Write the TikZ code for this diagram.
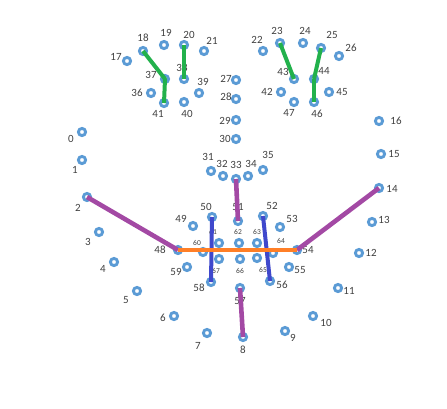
\documentclass[tikz,border=0pt]{standalone}
\usepackage{fontspec}
\setmainfont{Carlito}
\definecolor{dotblue}{HTML}{5B9BD5}
\definecolor{lblgray}{HTML}{404040}
\definecolor{lgreen}{HTML}{22B14C}
\definecolor{lmagenta}{HTML}{A349A4}
\definecolor{lblue}{HTML}{3F48CC}
\definecolor{lorange}{HTML}{FF7F27}
\begin{document}
\begin{tikzpicture}[x=1pt,y=-1pt,
  pt/.style={circle,draw=dotblue,line width=2.9pt,fill=white,minimum size=7.2pt,inner sep=0pt},
  lbl/.style={text=lblgray,font=\fontsize{11}{13}\selectfont,inner sep=0pt},
  slbl/.style={text=lblgray,font=\fontsize{7.5}{9}\selectfont,inner sep=0pt},
  gline/.style={draw=lgreen,line width=4pt,line join=round},
  mline/.style={draw=lmagenta,line width=4.6pt},
  bline/.style={draw=lblue,line width=4pt},
  oline/.style={draw=lorange,line width=4pt}]
\useasboundingbox (0,0) rectangle (447,408);
% points: name / x / y / label x / label y
\foreach \n/\x/\y/\lx/\ly in {
 0/82/132/71/139, 1/82/160/75/170, 2/87/197/78/208, 3/99/232/88/242,
 4/114/262/103/269, 5/137/291/126/300, 6/174/316/163/318, 7/207/333/198/346,
 8/243/337/243/350, 9/285/331/293/338, 10/313/316/326/323, 11/338/288/349/291,
 12/359/253/371/253, 13/372/222/384/220, 14/379/188/392/189, 15/381/154/394/154,
 16/379/121/396/121, 17/127/61/116/57, 18/143/51/143/38, 19/164/45/166/33,
 20/184/45/189/35, 21/204/51/212/41, 22/263/51/257/40, 23/280/43/277/31,
 24/303/43/305/31, 25/321/48/332/35, 26/339/56/351/48, 27/236/80/226/79,
 28/236/99/226/97, 29/236/120/225/121, 30/236/139/225/139, 31/211/171/208/157,
 32/223/176/222/164, 33/236/179/236/165, 34/248/176/251/164, 35/263/170/268/155,
 36/151/93/137/93, 37/165/79/151/75, 38/184/79/182/68, 39/199/93/203/82,
 40/184/102/187/114, 41/164/103/158/114, 42/281/92/267/92, 43/294/79/283/72,
 44/314/79/324/71, 45/329/92/342/92, 46/314/102/317/114, 47/294/102/289/113,
 48/178/250/160/250, 49/193/226/181/219, 50/212/217/206/207, 51/238/221/238/207,
 52/263/216/272/206, 53/280/227/292/219, 54/297/250/308/250, 55/289/267/300/270,
 56/270/281/282/285, 57/240/288/240/301, 58/211/282/199/288, 59/187/267/176/272}
{
  \node[pt] (p\n) at (\x,\y) {};
  \node[lbl] (l\n) at (\lx,\ly) {\n};
}
\foreach \n/\x/\y/\lx/\ly in {
 60/203/252/197/243, 61/219/243/213/232, 62/239/243/238/232, 63/257/243/257/232,
 64/273/253/281/241, 65/257/258/263/270, 66/240/259/240/271, 67/219/259/216/271}
{
  \node[pt] (p\n) at (\x,\y) {};
  \node[slbl] (l\n) at (\lx,\ly) {\n};
}
% connectors
\draw[gline] (p18.center) -- (p37.center) -- (p41.center);
\draw[gline] (p20.center) -- (p38.center);
\draw[gline] (p23.center) -- (p43.center);
\draw[gline] (p25.center) -- (p44.center);
\draw[gline] (p44.center) -- (p46.center);
\draw[mline] (p2.center) -- (p48.center);
\draw[mline] (p14.center) -- (p54.center);
\draw[mline] (p33.center) -- (p51.center);
\draw[mline] (p57.center) -- (p8.center);
\draw[bline] (p50.center) -- (p58.center);
\draw[bline] (p52.center) -- (p56.center);
\draw[oline] (p48.center) -- (p54.center);
\end{tikzpicture}
\end{document}
